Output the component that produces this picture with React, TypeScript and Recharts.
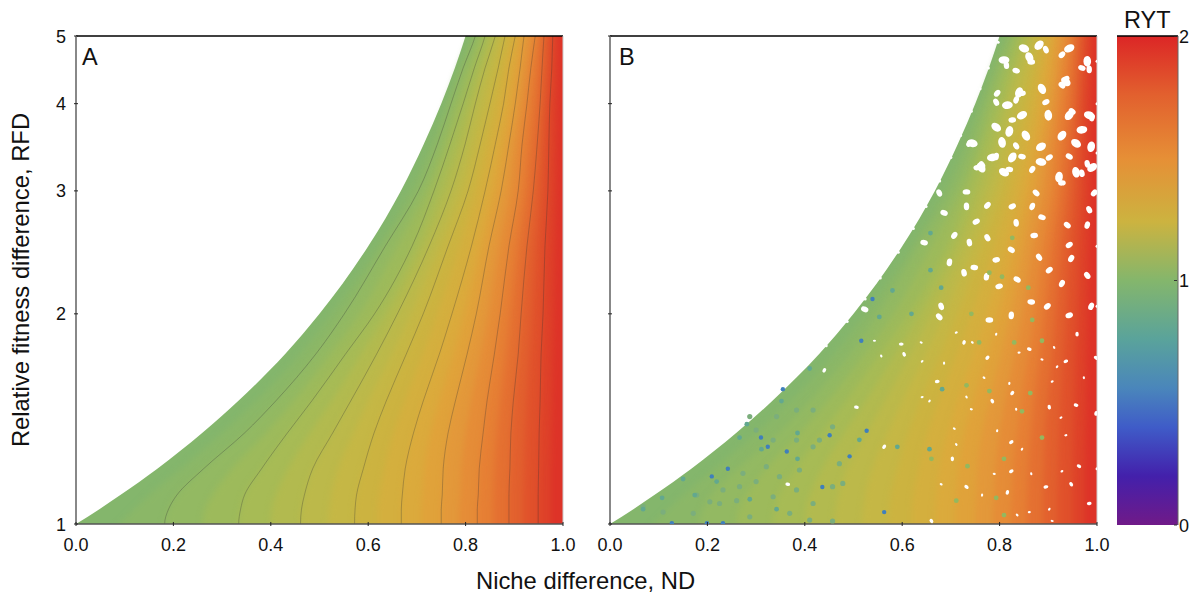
import { Area, Bar, BarChart, ComposedChart, Line, ReferenceLine, Scatter, XAxis, YAxis } from 'recharts'

const rfdLevels = [1, 1.05, 1.1, 1.2, 1.35, 1.5, 1.75, 2, 2.5, 3, 3.5, 4, 4.5, 5]

// ND position of each RYT isoline at those levels
const ryt100 = [0, 0.048, 0.091, 0.167, 0.259, 0.333, 0.429, 0.5, 0.6, 0.667, 0.714, 0.75, 0.778, 0.8]
const ryt105 = [0.09, 0.12, 0.15, 0.215, 0.3, 0.37, 0.46, 0.525, 0.62, 0.685, 0.728, 0.76, 0.786, 0.81]
const ryt110 = [0.182, 0.19, 0.207, 0.262, 0.346, 0.41, 0.492, 0.551, 0.635, 0.703, 0.742, 0.77, 0.795, 0.82]
const ryt115 = [0.26, 0.265, 0.28, 0.32, 0.39, 0.447, 0.522, 0.582, 0.66, 0.72, 0.756, 0.782, 0.806, 0.83]
const ryt120 = [0.334, 0.338, 0.346, 0.381, 0.434, 0.484, 0.553, 0.613, 0.69, 0.735, 0.768, 0.795, 0.818, 0.84]
const ryt125 = [0.4, 0.402, 0.41, 0.435, 0.48, 0.525, 0.585, 0.637, 0.707, 0.752, 0.784, 0.808, 0.83, 0.85]
const ryt130 = [0.461, 0.463, 0.469, 0.486, 0.527, 0.564, 0.617, 0.66, 0.725, 0.77, 0.799, 0.82, 0.84, 0.861]
const ryt135 = [0.518, 0.52, 0.524, 0.538, 0.57, 0.6, 0.648, 0.687, 0.745, 0.788, 0.815, 0.835, 0.853, 0.871]
const ryt140 = [0.572, 0.573, 0.576, 0.59, 0.612, 0.637, 0.678, 0.713, 0.764, 0.805, 0.83, 0.85, 0.867, 0.881]
const ryt145 = [0.62, 0.62, 0.623, 0.633, 0.652, 0.675, 0.712, 0.742, 0.788, 0.822, 0.845, 0.864, 0.878, 0.891]
const ryt150 = [0.668, 0.668, 0.67, 0.676, 0.693, 0.713, 0.746, 0.772, 0.812, 0.84, 0.861, 0.878, 0.889, 0.902]
const ryt155 = [0.709, 0.709, 0.711, 0.715, 0.728, 0.746, 0.775, 0.797, 0.83, 0.856, 0.875, 0.89, 0.9, 0.911]
const ryt160 = [0.75, 0.75, 0.752, 0.754, 0.764, 0.779, 0.803, 0.822, 0.848, 0.873, 0.889, 0.902, 0.912, 0.92]
const ryt165 = [0.787, 0.787, 0.789, 0.791, 0.8, 0.811, 0.831, 0.846, 0.868, 0.89, 0.902, 0.914, 0.923, 0.931]
const ryt170 = [0.824, 0.824, 0.826, 0.828, 0.836, 0.844, 0.859, 0.871, 0.889, 0.908, 0.916, 0.926, 0.934, 0.943]
const ryt175 = [0.856, 0.856, 0.857, 0.859, 0.864, 0.871, 0.883, 0.892, 0.907, 0.923, 0.931, 0.939, 0.945, 0.952]
const ryt180 = [0.889, 0.889, 0.889, 0.891, 0.893, 0.898, 0.908, 0.914, 0.926, 0.939, 0.947, 0.953, 0.957, 0.961]
const ryt185 = [0.919, 0.919, 0.919, 0.92, 0.922, 0.925, 0.931, 0.936, 0.944, 0.954, 0.959, 0.963, 0.967, 0.97]
const ryt190 = [0.949, 0.949, 0.949, 0.95, 0.951, 0.953, 0.955, 0.959, 0.963, 0.969, 0.971, 0.973, 0.977, 0.979]
const ryt195 = [0.975, 0.975, 0.975, 0.975, 0.976, 0.977, 0.978, 0.98, 0.982, 0.985, 0.986, 0.987, 0.989, 0.99]

const isolines = [
  ryt100, ryt105, ryt110, ryt115, ryt120, ryt125, ryt130, ryt135, ryt140, ryt145,
  ryt150, ryt155, ryt160, ryt165, ryt170, ryt175, ryt180, ryt185, ryt190, ryt195,
]
const isolineColors = [
  '#84b66c', '#8bb767', '#93b962', '#9dba5b', '#a7bb55', '#b2ba4f', '#bcb94a', '#c5b745', '#ccb340', '#d4af3e',
  '#dbaa3c', '#e0a23a', '#e3983a', '#e58c37', '#e67f34', '#e47031', '#e2602e', '#e0512b', '#de4229', '#dd3328',
]
// the black contours of panel A are every other isoline, skipping the boundary
const drawnContours = [2, 4, 6, 8, 10, 12, 14, 16, 18]

// each isoline carried a little past both ends of the axis, clipped at the frame,
// so the blurred colour bands don't fade out along it
const belowAxis = [
  -0.07, 0.06, 0.182, 0.26, 0.334, 0.4, 0.461, 0.518, 0.572, 0.62,
  0.668, 0.709, 0.75, 0.787, 0.824, 0.856, 0.889, 0.919, 0.949, 0.975,
]
const aboveAxis = [
  0.815, 0.823, 0.832, 0.842, 0.852, 0.862, 0.873, 0.883, 0.893, 0.902,
  0.912, 0.92, 0.928, 0.939, 0.95, 0.958, 0.965, 0.973, 0.982, 0.992,
]

const ndTicks = [0, 0.2, 0.4, 0.6, 0.8, 1]
const rfdTicks = [1, 2, 3, 4, 5]
const rytTicks = [0, 1, 2]
const rytRange = [{ name: 'RYT', value: 2 }]

const rows = [
  { rfd: 0.93, nd: belowAxis },
  ...rfdLevels.map((rfd, i) => ({ rfd, nd: isolines.map((line) => line[i]) })),
  { rfd: 5.4, nd: aboveAxis },
]

// Panel B has thousands of points, far too many to read one by one. It is drawn
// as the filled region with the visible holes and odd-coloured dots placed on top.
const holesTop = [
  [0.809, 4.62], [0.861, 4.66], [0.881, 4.85], [0.85, 4.8], [0.98, 4.6], [0.943, 4.8], [0.936, 4.3], [0.84, 4.15],
  [0.816, 3.98], [0.887, 4.2], [0.943, 3.85], [0.984, 3.85], [0.9, 3.85], [0.846, 3.85], [0.793, 3.7], [0.82, 3.65],
  [0.969, 3.67], [0.854, 3.6], [0.928, 3.6], [0.744, 3.51], [0.805, 3.52], [0.885, 3.47], [0.957, 3.51], [0.988, 3.47],
  [0.785, 3.35], [0.762, 3.24], [0.826, 3.35], [0.885, 3.3], [0.957, 3.19], [0.99, 3.24], [0.809, 3.19], [0.922, 3.14],
]
const holesTopSmall = [
  [0.865, 4.59], [0.895, 4.78], [0.928, 4.7], [0.969, 4.5], [0.984, 4.48], [0.936, 4.34], [0.928, 4.25], [0.834, 4.05],
  [0.846, 4.14], [0.793, 4.02], [0.795, 4.14], [0.834, 4.46], [0.814, 4.54], [0.895, 4.02], [0.949, 3.9], [0.99, 3.82],
  [0.826, 3.79], [0.834, 3.48], [0.738, 3.51], [0.846, 3.36], [0.98, 3.28], [0.902, 3.35], [0.943, 3.36], [0.793, 3.36],
  [0.754, 3.24], [0.764, 3.27], [0.867, 3.22], [0.82, 3.22], [0.969, 3.18],
]
const holesMiddle = [
  [0.732, 2.99], [0.676, 2.98], [0.775, 2.86], [0.686, 2.79], [0.732, 2.85], [0.826, 2.85], [0.875, 2.98], [0.867, 2.85],
  [0.928, 3.08], [0.984, 2.82], [0.994, 2.98], [0.887, 2.75], [0.834, 2.7], [0.752, 2.71], [0.939, 2.68], [0.98, 2.68],
  [0.871, 2.59], [0.775, 2.57], [0.707, 2.59], [0.645, 2.53], [0.738, 2.53], [0.943, 2.51], [0.824, 2.47], [0.697, 2.37],
  [0.793, 2.39], [0.881, 2.41], [0.947, 2.4], [0.748, 2.33], [0.727, 2.29], [0.902, 2.31], [0.836, 2.24], [0.773, 2.26],
  [0.799, 2.19], [0.98, 2.27], [0.928, 2.21], [0.865, 2.08], [0.68, 2.05], [0.898, 2.05], [0.523, 2.03], [0.824, 1.99],
  [0.943, 1.99], [0.676, 1.98], [0.988, 2.05], [0.779, 1.96],
]
const holesLow = [
  [0.598, 1.81], [0.604, 1.75], [0.775, 1.73], [0.861, 1.78], [0.959, 1.87], [0.936, 1.71], [0.998, 1.73], [0.727, 1.82],
  [0.672, 1.6], [0.785, 1.5], [0.826, 1.54], [0.957, 1.48], [0.703, 1.24], [0.824, 1.19], [0.732, 1.13], [0.816, 1.11],
  [0.984, 1.07], [0.66, 1.01], [0.563, 1.29], [0.506, 1.47], [0.902, 1.47], [0.824, 1.31], [0.963, 1.21], [0.998, 1.44],
  [0.895, 1.13], [0.947, 1.14], [0.44, 1.66], [0.365, 1.14],
]
const holesTiny = [
  [0.543, 1.83], [0.557, 1.74], [0.641, 1.71], [0.639, 1.82], [0.686, 1.7], [0.711, 1.88], [0.744, 1.82], [0.793, 1.87],
  [0.84, 1.76], [0.912, 1.79], [0.918, 1.68], [0.887, 1.72], [0.973, 1.62], [0.908, 1.6], [0.768, 1.62], [0.82, 1.59],
  [0.641, 1.52], [0.732, 1.52], [0.656, 1.5], [0.742, 1.46], [0.834, 1.46], [0.926, 1.42], [0.707, 1.37], [0.795, 1.36],
  [0.936, 1.34], [0.711, 1.3], [0.846, 1.28], [0.789, 1.18], [0.865, 1.18], [0.928, 1.19], [0.68, 1.14], [0.764, 1.1],
  [0.861, 1.04], [0.836, 1.03], [0.902, 1.05], [0.908, 1.01],
]
// bites out of the scalloped left and right edges of the point cloud
const edgeNotches = [
  [0.797, 4.9], [0.777, 4.5], [0.76, 4.2], [0.742, 3.9], [0.72, 3.6], [0.7, 3.35], [0.677, 3.1], [0.649, 2.85],
  [0.623, 2.65], [0.592, 2.45], [0.555, 2.25], [0.524, 2.1], [0.487, 1.95], [0.444, 1.8], [1, 4.6], [1, 4.0],
  [1, 3.4], [1, 2.98], [1, 2.5], [1, 2.05], [1, 1.73], [1, 1.44], [1, 1.2],
]
const blueDots = [
  [0.324, 1.29], [0.451, 1.34], [0.209, 1.17], [0.436, 1.13], [0.127, 1.003], [0.199, 1.003], [0.232, 1.003], [0.242, 1.2],
  [0.363, 1.27], [0.31, 1.33], [0.355, 1.56], [0.527, 1.36], [0.563, 1.04], [0.516, 1.83], [0.492, 1.25], [0.539, 2.1],
]
const tealDots = [
  [0.311, 1.28], [0.385, 1.24], [0.287, 1.085], [0.174, 1.1], [0.15, 1.16], [0.41, 1.67], [0.219, 1.15], [0.266, 1.33],
  [0.385, 1.35], [0.352, 1.5], [0.281, 1.39], [0.107, 1.09], [0.068, 1.05], [0.342, 1.05], [0.512, 1.32], [0.59, 1.29],
  [0.656, 1.28], [0.682, 1.56], [0.658, 2.61], [0.658, 2.31], [0.68, 2.18], [0.553, 1.98], [0.58, 2.16], [0.619, 2.0],
]
const softTealDots = [
  [0.068, 1.059], [0.109, 1.04], [0.178, 1.1], [0.205, 1.076], [0.225, 1.07], [0.26, 1.08], [0.287, 1.024], [0.171, 1.036],
  [0.335, 1.094], [0.383, 1.119], [0.417, 1.07], [0.389, 1.195], [0.348, 1.169], [0.3, 1.15], [0.273, 1.182], [0.232, 1.119],
  [0.266, 1.131], [0.321, 1.208], [0.417, 1.29], [0.383, 1.319], [0.335, 1.319], [0.3, 1.363], [0.383, 1.456], [0.417, 1.456],
  [0.342, 1.425], [0.287, 1.425], [0.457, 1.378], [0.471, 1.22], [0.43, 1.319], [0.457, 1.131], [0.478, 1.143], [0.369, 1.036],
  [0.41, 1.013], [0.457, 1.01],
]
const greenDots = [
  [0.779, 1.55], [0.887, 1.33], [0.863, 1.54], [0.846, 1.45], [0.809, 1.24], [0.734, 1.21], [0.809, 1.03], [0.711, 1.08],
  [0.793, 1.09], [0.66, 1.24], [0.732, 1.58], [0.758, 1.82], [0.83, 1.82], [0.887, 1.83], [0.779, 2.29], [0.826, 2.57],
  [0.859, 2.18], [0.867, 1.96], [0.742, 2.0], [0.805, 2.26],
]

const toPoints = (pairs: number[][]) => pairs.map(([nd, rfd]) => ({ nd, rfd }))

const FONT = '"Liberation Sans", Arial, sans-serif'

function dot(radius: number, fill: string) {
  return (props: any) => <circle cx={props.cx} cy={props.cy} r={radius} fill={fill} />
}

// the gaps between points are lumpy rather than round
function hole(radius: number) {
  return (props: any) => (
    <ellipse
      cx={props.cx}
      cy={props.cy}
      rx={radius * 1.2}
      ry={radius * 0.85}
      fill="#fff"
      transform={`rotate(${(props.index * 67) % 180} ${props.cx} ${props.cy})`}
    />
  )
}

function NdTick({ x, y, payload }: any) {
  return (
    <g>
      <line x1={x} x2={x} y1={y - 4} y2={y} stroke="#222" strokeWidth={1} />
      <text x={x} y={y + 25} textAnchor="middle" fontSize={18} fontFamily={FONT} fill="#111">
        {payload.value.toFixed(1)}
      </text>
    </g>
  )
}

function RfdTick({ x, y, payload, showLabel }: any) {
  return (
    <g>
      <line x1={x} x2={x + 4} y1={y} y2={y} stroke="#222" strokeWidth={1} />
      {showLabel && (
        <text x={x - 8} y={y + 6.5} textAnchor="end" fontSize={18} fontFamily={FONT} fill="#111">
          {payload.value}
        </text>
      )}
    </g>
  )
}

function RytTick({ x, y, payload }: any) {
  return (
    <g>
      <line x1={x - 6} x2={x - 3} y1={y} y2={y} stroke="#333" strokeWidth={1} />
      <text x={x - 1} y={y + 6.5} fontSize={18} fontFamily={FONT} fill="#111">
        {payload.value}
      </text>
    </g>
  )
}

function Panel({ left, scattered }: { left: number; scattered: boolean }) {
  return (
    <div style={{ position: 'absolute', left, top: 0 }}>
      <ComposedChart
        layout="vertical"
        width={600}
        height={594}
        data={rows}
        margin={{ top: 36, right: 37, bottom: 40, left: 0 }}
      >
        <XAxis
          type="number"
          dataKey="nd"
          domain={[0, 1]}
          ticks={ndTicks}
          interval={0}
          height={30}
          allowDataOverflow
          tickLine={false}
          tickSize={0}
          tick={<NdTick />}
          axisLine={{ stroke: '#555', strokeWidth: 1.5 }}
        />
        <YAxis
          type="number"
          dataKey="rfd"
          scale="log"
          domain={[1, 5]}
          ticks={rfdTicks}
          interval={0}
          reversed
          width={76}
          allowDataOverflow
          tickLine={false}
          tickSize={0}
          tick={<RfdTick showLabel={!scattered} />}
          axisLine={{ stroke: '#888', strokeWidth: 2 }}
        />
        {isolines.map((_, i) => (
          <Area
            key={i}
            className={i > 0 ? 'band' : undefined}
            type="monotone"
            dataKey={(row: any) => [row.nd[i], 1.06]}
            fill={isolineColors[i]}
            fillOpacity={1}
            stroke="none"
            isAnimationActive={false}
            activeDot={false}
          />
        ))}
        {!scattered &&
          drawnContours.map((i) => (
            <Line
              key={i}
              type="monotone"
              dataKey={(row: any) => row.nd[i]}
              stroke="#333"
              strokeOpacity={0.6}
              strokeWidth={0.5}
              dot={false}
              isAnimationActive={false}
            />
          ))}
        {scattered && (
          <>
            <Scatter data={toPoints(holesTop)} shape={hole(4.5)} isAnimationActive={false} />
            <Scatter data={toPoints(holesTopSmall)} shape={hole(3.2)} isAnimationActive={false} />
            <Scatter data={toPoints(holesMiddle)} shape={hole(3.2)} isAnimationActive={false} />
            <Scatter data={toPoints(holesLow)} shape={hole(2)} isAnimationActive={false} />
            <Scatter data={toPoints(holesTiny)} shape={hole(1.3)} isAnimationActive={false} />
            <Scatter data={toPoints(edgeNotches)} shape={dot(1.5, '#fff')} isAnimationActive={false} />
            <Scatter data={toPoints(softTealDots)} shape={dot(2.6, '#7bae7c')} isAnimationActive={false} />
            <Scatter data={toPoints(tealDots)} shape={dot(2.4, '#62a88f')} isAnimationActive={false} />
            <Scatter data={toPoints(greenDots)} shape={dot(2.4, '#93b85f')} isAnimationActive={false} />
            <Scatter data={toPoints(blueDots)} shape={dot(2.2, '#3f7fbc')} isAnimationActive={false} />
          </>
        )}
        <ReferenceLine y={5} stroke="#000" strokeWidth={1.5} />
        <ReferenceLine x={1} stroke="#ccc" strokeWidth={1} />
      </ComposedChart>
    </div>
  )
}

function ColorBar() {
  return (
    <div style={{ position: 'absolute', left: 1117, top: 0 }}>
      <BarChart
        width={74}
        height={594}
        data={rytRange}
        barCategoryGap={0}
        margin={{ top: 36, right: 0, bottom: 69, left: 0 }}
      >
        <defs>
          <linearGradient id="rytScale" x1="0" y1="0" x2="0" y2="1">
            <stop offset="0" stopColor="#dc2626" />
            <stop offset="0.12" stopColor="#e2602e" />
            <stop offset="0.25" stopColor="#e68f36" />
            <stop offset="0.38" stopColor="#ccb340" />
            <stop offset="0.5" stopColor="#84b66c" />
            <stop offset="0.62" stopColor="#5aa39b" />
            <stop offset="0.72" stopColor="#4a86bb" />
            <stop offset="0.8" stopColor="#3f5cc8" />
            <stop offset="0.9" stopColor="#4320ab" />
            <stop offset="1" stopColor="#701a88" />
          </linearGradient>
        </defs>
        <XAxis dataKey="name" hide />
        <YAxis
          orientation="right"
          domain={[0, 2]}
          ticks={rytTicks}
          interval={0}
          width={13}
          tickLine={false}
          tickSize={0}
          axisLine={{ stroke: '#666', strokeWidth: 1 }}
          tick={<RytTick />}
        />
        <Bar dataKey="value" fill="url(#rytScale)" isAnimationActive={false} />
        <ReferenceLine y={2} stroke="#000" strokeWidth={1.5} />
      </BarChart>
    </div>
  )
}

function Caption({ x, y, size, children }: { x: number; y: number; size: number; children: string }) {
  return (
    <div
      style={{
        position: 'absolute',
        left: x,
        top: y,
        fontFamily: FONT,
        fontSize: size,
        lineHeight: 1,
        color: '#111',
        whiteSpace: 'nowrap',
      }}
    >
      {children}
    </div>
  )
}

export default function App() {
  return (
    <div style={{ position: 'absolute', left: 0, top: 0, width: 1191, height: 594, overflow: 'hidden', background: '#fff' }}>
      <style>{'.band .recharts-area-area { filter: blur(3px); }'}</style>
      <Panel left={0} scattered={false} />
      <Panel left={534} scattered={true} />
      <ColorBar />
      <Caption x={82} y={46} size={23.5}>A</Caption>
      <Caption x={619} y={46} size={23.5}>B</Caption>
      <Caption x={1124} y={9} size={23.5}>RYT</Caption>
      <Caption x={476} y={569} size={23.8}>Niche difference, ND</Caption>
      <div
        style={{
          position: 'absolute',
          left: 21,
          top: 280,
          transform: 'translate(-50%, -50%) rotate(-90deg)',
          fontFamily: FONT,
          fontSize: 23.8,
          color: '#111',
          whiteSpace: 'nowrap',
        }}
      >
        Relative fitness difference, RFD
      </div>
    </div>
  )
}
